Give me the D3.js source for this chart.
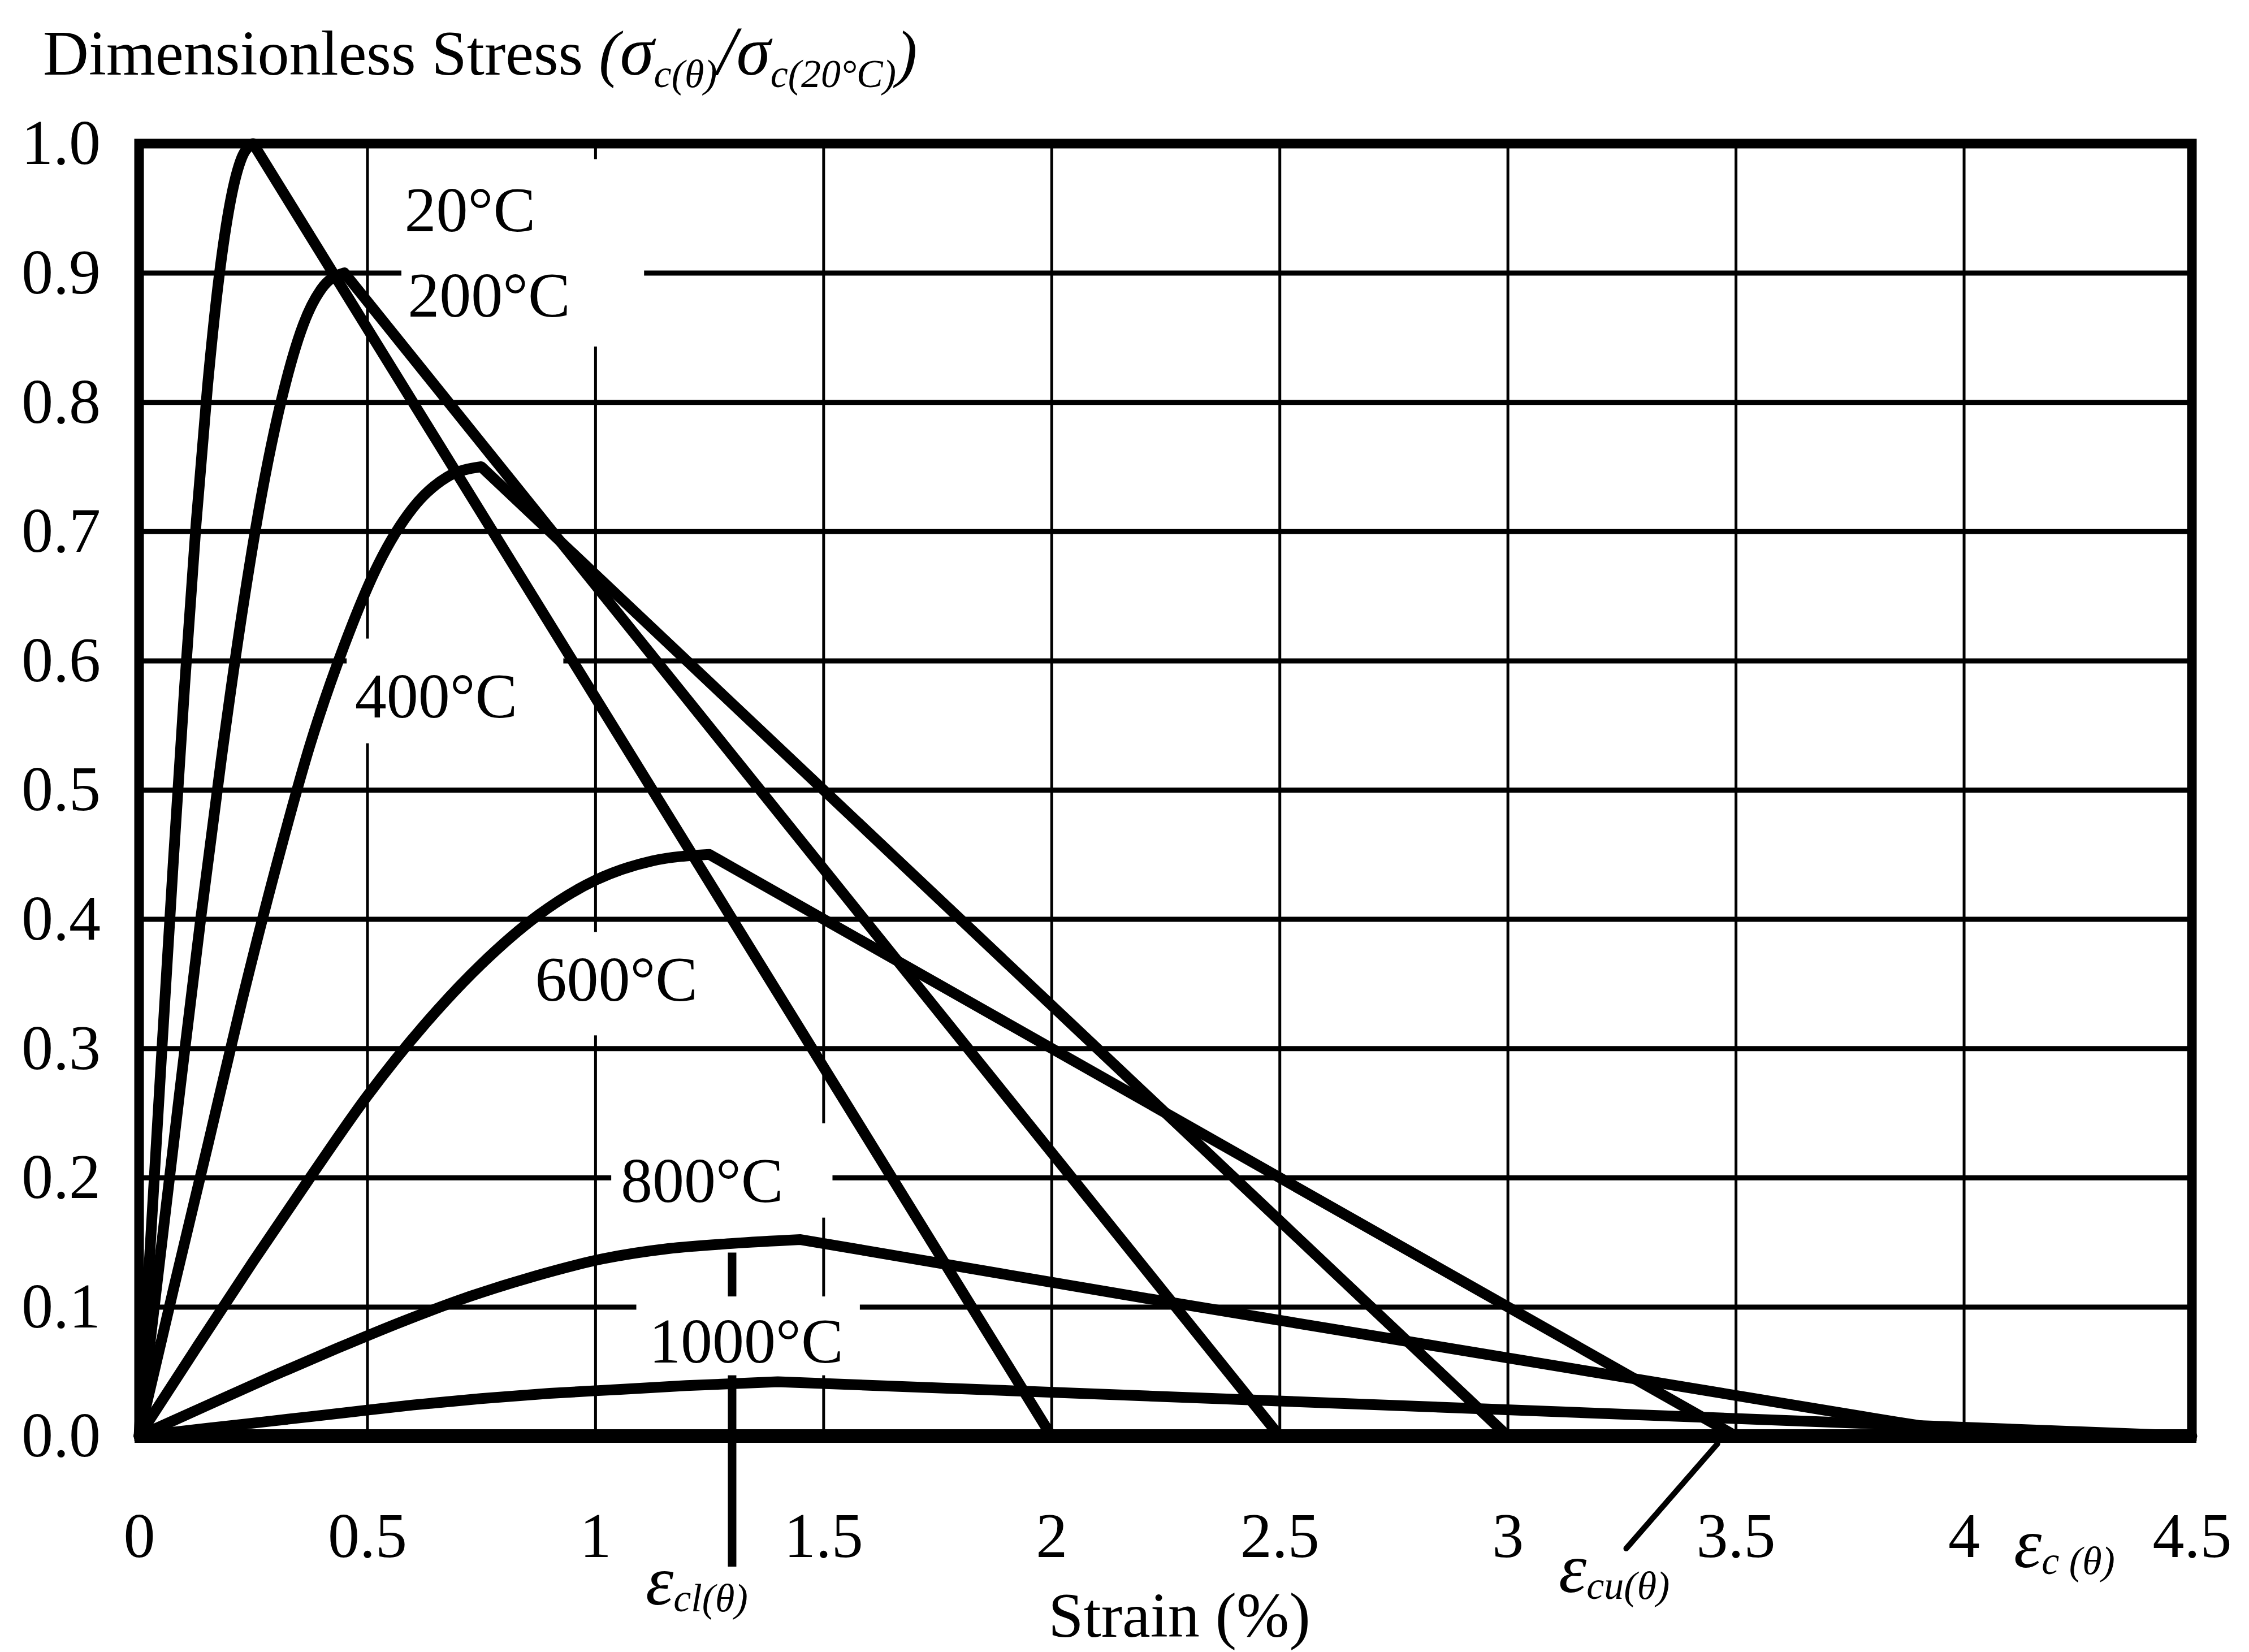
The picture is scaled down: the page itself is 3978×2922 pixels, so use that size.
<!DOCTYPE html>
<html>
<head>
<meta charset="utf-8">
<script src="https://cdn.jsdelivr.net/npm/d3@7"></script>
<style>
  html, body { margin: 0; padding: 0; background: #fff; }
  svg { display: block; }
  text { font-family: "Liberation Serif", "Times New Roman", serif; fill: #000; }
</style>
</head>
<body>
<svg id="chart" width="3978" height="2922"></svg>
<script>
// ---- data -------------------------------------------------------------
const strainTicks = [0, 0.5, 1, 1.5, 2, 2.5, 3, 3.5, 4, 4.5];
const strainTickLabels = ["0", "0.5", "1", "1.5", "2", "2.5", "3", "3.5", "4", "4.5"];
const stressTicks = [0, 0.1, 0.2, 0.3, 0.4, 0.5, 0.6, 0.7, 0.8, 0.9, 1.0];
const stressTickLabels = ["0.0", "0.1", "0.2", "0.3", "0.4", "0.5", "0.6", "0.7", "0.8", "0.9", "1.0"];

const temperatures = ["20°C", "200°C", "400°C", "600°C", "800°C", "1000°C"];

// [strain %, stress ratio]
const curve20 = [[0, 0], [0.025, 0.15], [0.05, 0.299], [0.075, 0.444], [0.1, 0.581], [0.125, 0.706],
  [0.15, 0.812], [0.175, 0.896], [0.2, 0.955], [0.225, 0.989], [0.25, 1.0], [2.0, 0]];
const curve200 = [[0, 0], [0.045, 0.135], [0.09, 0.269], [0.135, 0.4], [0.18, 0.523], [0.225, 0.635],
  [0.27, 0.731], [0.315, 0.806], [0.36, 0.86], [0.405, 0.89], [0.45, 0.9], [2.5, 0]];
const curve400 = [[0, 0], [0.075, 0.113], [0.15, 0.224], [0.225, 0.336], [0.3, 0.44], [0.375, 0.535],
  [0.45, 0.612], [0.525, 0.675], [0.6, 0.718], [0.675, 0.742], [0.75, 0.75], [3.0, 0]];
const curve600 = [[0, 0], [0.125, 0.068], [0.25, 0.135], [0.375, 0.2], [0.5, 0.263], [0.625, 0.318],
  [0.75, 0.365], [0.875, 0.403], [1.0, 0.43], [1.125, 0.445], [1.25, 0.45], [3.5, 0]];
const curve800 = [[0, 0], [0.145, 0.023], [0.29, 0.046], [0.435, 0.068], [0.58, 0.089], [0.725, 0.108],
  [0.87, 0.124], [1.015, 0.137], [1.16, 0.145], [1.3, 0.149], [1.45, 0.152], [2.2, 0.107],
  [3.3, 0.043], [3.85, 0.011], [4.05, 0]];
const curve1000 = [[0, 0], [0.15, 0.006], [0.3, 0.012], [0.45, 0.018], [0.6, 0.024], [0.75, 0.029],
  [0.9, 0.033], [1.05, 0.036], [1.2, 0.039], [1.4, 0.042], [4.5, 0]];

const curves = [curve20, curve200, curve400, curve600, curve800, curve1000];

// strain at peak stress and at ultimate strain marked below the axis
const peakStrainMark = 1.3;
const ultimateStrainMark = 3.5;

// ---- layout -----------------------------------------------------------
const svg = d3.select("#chart");
svg.append("rect").attr("width", 3978).attr("height", 2922).attr("fill", "#fff");

const x = d3.scaleLinear().domain([0, 4.5]).range([246, 3877]);
const y = d3.scaleLinear().domain([0, 1]).range([2540, 254]);
const plotW = x(4.5) - x(0);
const plotH = y(0) - y(1);
const FS = 112;

// vertical grid
svg.append("g")
  .attr("transform", `translate(0,${y(0)})`)
  .call(d3.axisBottom(x).tickValues(strainTicks.slice(1, -1)).tickSize(-plotH).tickFormat(""))
  .call(g => g.select(".domain").remove())
  .selectAll("line").attr("stroke", "#000").attr("stroke-width", 5);

// horizontal grid
svg.append("g")
  .attr("transform", `translate(${x(0)},0)`)
  .call(d3.axisLeft(y).tickValues(stressTicks.slice(1, -1)).tickSize(-plotW).tickFormat(""))
  .call(g => g.select(".domain").remove())
  .selectAll("line").attr("stroke", "#000").attr("stroke-width", 9);

// peak-strain marker (crosses the axis)
svg.append("line")
  .attr("x1", x(peakStrainMark)).attr("x2", x(peakStrainMark))
  .attr("y1", y(0.142)).attr("y2", y(-0.101))
  .attr("stroke", "#000").attr("stroke-width", 15);

// white label boxes sitting over the grid: [x0, x1, y0, y1] in data units
const labelBoxes = [
  [0.575, 1.107, 0.843, 0.988],
  [0.455, 0.93, 0.536, 0.617],
  [0.85, 1.25, 0.31, 0.39],
  [1.035, 1.52, 0.169, 0.242],
  [1.09, 1.58, 0.047, 0.108]
];
svg.append("g").selectAll("rect").data(labelBoxes).join("rect")
  .attr("x", d => x(d[0])).attr("width", d => x(d[1]) - x(d[0]))
  .attr("y", d => y(d[3])).attr("height", d => y(d[2]) - y(d[3]))
  .attr("fill", "#fff");

// stress-strain curves: smooth rising branch up to the peak, straight-segment softening branch
const riseLine = d3.line().x(d => x(d[0])).y(d => y(d[1])).curve(d3.curveMonotoneX);
const fallLine = d3.line().x(d => x(d[0])).y(d => y(d[1]));
function curvePath(pts) {
  const peak = d3.maxIndex(pts, d => d[1]);
  return riseLine(pts.slice(0, peak + 1)) + fallLine(pts.slice(peak)).replace(/^M/, "L");
}
svg.append("g").selectAll("path").data(curves).join("path")
  .attr("d", curvePath)
  .attr("fill", "none")
  .attr("stroke", "#000")
  .attr("stroke-width", 19)
  .attr("stroke-linejoin", "round")
  .attr("stroke-linecap", "round");

// ultimate-strain pointer
svg.append("line")
  .attr("x1", x(3.26)).attr("y1", y(-0.087))
  .attr("x2", x(ultimateStrainMark - 0.04)).attr("y2", y(-0.006))
  .attr("stroke", "#000").attr("stroke-width", 10).attr("stroke-linecap", "round");

// frame
svg.append("rect")
  .attr("x", x(0)).attr("y", y(1)).attr("width", plotW).attr("height", plotH)
  .attr("fill", "none").attr("stroke", "#000").attr("stroke-width", 17);
svg.append("line")
  .attr("x1", x(0) - 8).attr("x2", x(4.5) + 8).attr("y1", y(0)).attr("y2", y(0))
  .attr("stroke", "#000").attr("stroke-width", 24);

// tick labels
svg.append("g")
  .attr("transform", `translate(0,${y(0)})`)
  .call(d3.axisBottom(x).tickValues(strainTicks).tickFormat((d, i) => strainTickLabels[i])
    .tickSize(0).tickPadding(134))
  .call(g => g.select(".domain").remove())
  .attr("font-family", null).attr("font-size", null)
  .selectAll("text").attr("font-size", FS);

svg.append("g")
  .attr("transform", `translate(${x(0)},0)`)
  .call(d3.axisLeft(y).tickValues(stressTicks).tickFormat((d, i) => stressTickLabels[i])
    .tickSize(0).tickPadding(68))
  .call(g => g.select(".domain").remove())
  .attr("font-family", null).attr("font-size", null)
  .selectAll("text").attr("font-size", FS);

// temperature labels: left edge / baseline in data units
const labelAnchors = [[0.582, 0.932], [0.589, 0.866], [0.473, 0.556], [0.868, 0.337], [1.056, 0.181], [1.118, 0.057]];
svg.append("g").selectAll("text").data(temperatures).join("text")
  .attr("x", (d, i) => x(labelAnchors[i][0]))
  .attr("y", (d, i) => y(labelAnchors[i][1]))
  .attr("font-size", FS)
  .text(d => d);

// axis titles
const title = svg.append("text").attr("x", 76).attr("y", 132).attr("font-size", FS);
title.append("tspan").text("Dimensionless Stress ");
title.append("tspan").attr("font-style", "italic").text("(");
title.append("tspan").attr("font-style", "italic").attr("font-size", 122).text("σ");
title.append("tspan").attr("font-style", "italic").attr("font-size", 70).attr("dy", 22).text("c(θ)");
title.append("tspan").attr("font-style", "italic").attr("font-size", 122).attr("dy", -22).text("/σ");
title.append("tspan").attr("font-style", "italic").attr("font-size", 70).attr("dy", 22).text("c(20°C)");
title.append("tspan").attr("font-style", "italic").attr("dy", -22).text(")");

svg.append("text")
  .attr("x", 2086).attr("y", 2895)
  .attr("text-anchor", "middle")
  .attr("font-size", FS)
  .text("Strain (%)");

// strain symbols under the axis
function strainSymbol(px, py, sub) {
  const t = svg.append("text").attr("x", px).attr("y", py).attr("font-style", "italic");
  t.append("tspan").attr("font-size", 125).text("ε");
  t.append("tspan").attr("font-size", 70).attr("dy", 12).text(sub);
}
strainSymbol(1142, 2838, "cl(θ)");
strainSymbol(2757, 2816, "cu(θ)");
strainSymbol(3562, 2772, "c (θ)");
</script>
</body>
</html>
